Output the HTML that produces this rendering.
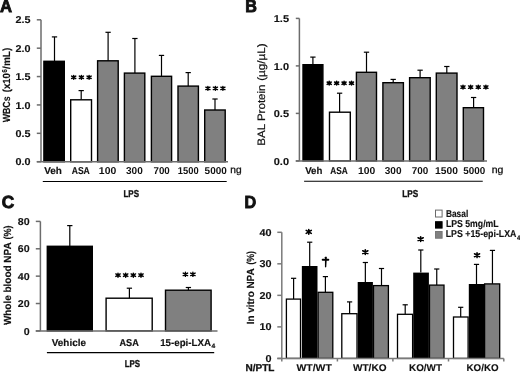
<!DOCTYPE html>
<html><head><meta charset="utf-8"><style>
html,body{margin:0;padding:0;background:#fff;}
body{width:520px;height:374px;overflow:hidden;}
svg{display:block;font-family:"Liberation Sans", sans-serif;filter:grayscale(1);text-rendering:geometricPrecision;}
</style></head><body>
<svg width="520" height="374" viewBox="0 0 520 374">
<line x1="41.00" y1="19.80" x2="41.00" y2="161.70" stroke="#6c6c6c" stroke-width="1.5"/>
<line x1="36.80" y1="161.70" x2="41.00" y2="161.70" stroke="#6c6c6c" stroke-width="1.5"/>
<line x1="36.80" y1="133.32" x2="41.00" y2="133.32" stroke="#6c6c6c" stroke-width="1.5"/>
<line x1="36.80" y1="104.94" x2="41.00" y2="104.94" stroke="#6c6c6c" stroke-width="1.5"/>
<line x1="36.80" y1="76.56" x2="41.00" y2="76.56" stroke="#6c6c6c" stroke-width="1.5"/>
<line x1="36.80" y1="48.18" x2="41.00" y2="48.18" stroke="#6c6c6c" stroke-width="1.5"/>
<line x1="36.80" y1="19.80" x2="41.00" y2="19.80" stroke="#6c6c6c" stroke-width="1.5"/>
<line x1="54.50" y1="61.30" x2="54.50" y2="36.90" stroke="#000" stroke-width="1.2"/><line x1="51.85" y1="36.90" x2="57.15" y2="36.90" stroke="#000" stroke-width="1.2"/>
<rect x="43.90" y="61.30" width="20.40" height="100.40" fill="#000" stroke="#000" stroke-width="1.4"/>
<line x1="81.20" y1="99.80" x2="81.20" y2="90.60" stroke="#000" stroke-width="1.2"/><line x1="78.55" y1="90.60" x2="83.85" y2="90.60" stroke="#000" stroke-width="1.2"/>
<rect x="70.70" y="99.80" width="20.80" height="61.90" fill="#fff" stroke="#000" stroke-width="1.4"/>
<line x1="108.10" y1="60.80" x2="108.10" y2="32.30" stroke="#000" stroke-width="1.2"/><line x1="105.45" y1="32.30" x2="110.75" y2="32.30" stroke="#000" stroke-width="1.2"/>
<rect x="97.60" y="60.80" width="20.60" height="100.90" fill="#808080" stroke="#000" stroke-width="1.4"/>
<line x1="134.90" y1="73.10" x2="134.90" y2="38.50" stroke="#000" stroke-width="1.2"/><line x1="132.25" y1="38.50" x2="137.55" y2="38.50" stroke="#000" stroke-width="1.2"/>
<rect x="124.40" y="73.10" width="20.40" height="88.60" fill="#808080" stroke="#000" stroke-width="1.4"/>
<line x1="161.50" y1="76.30" x2="161.50" y2="55.40" stroke="#000" stroke-width="1.2"/><line x1="158.85" y1="55.40" x2="164.15" y2="55.40" stroke="#000" stroke-width="1.2"/>
<rect x="151.40" y="76.30" width="20.20" height="85.40" fill="#808080" stroke="#000" stroke-width="1.4"/>
<line x1="188.20" y1="86.10" x2="188.20" y2="72.60" stroke="#000" stroke-width="1.2"/><line x1="185.55" y1="72.60" x2="190.85" y2="72.60" stroke="#000" stroke-width="1.2"/>
<rect x="178.00" y="86.10" width="20.40" height="75.60" fill="#808080" stroke="#000" stroke-width="1.4"/>
<line x1="215.00" y1="110.00" x2="215.00" y2="99.00" stroke="#000" stroke-width="1.2"/><line x1="212.35" y1="99.00" x2="217.65" y2="99.00" stroke="#000" stroke-width="1.2"/>
<rect x="204.70" y="110.00" width="20.50" height="51.70" fill="#808080" stroke="#000" stroke-width="1.4"/>
<line x1="36.80" y1="161.70" x2="228.00" y2="161.70" stroke="#6c6c6c" stroke-width="1.5"/>
<path d="M73.70 75.45V79.15M71.65 76.12L75.75 78.48M71.65 78.48L75.75 76.12" stroke="#000" stroke-width="1.5" stroke-linecap="round"/><path d="M81.40 75.45V79.15M79.35 76.12L83.45 78.48M79.35 78.48L83.45 76.12" stroke="#000" stroke-width="1.5" stroke-linecap="round"/><path d="M89.10 75.45V79.15M87.05 76.12L91.15 78.48M87.05 78.48L91.15 76.12" stroke="#000" stroke-width="1.5" stroke-linecap="round"/>
<path d="M207.90 86.55V90.25M205.85 87.22L209.95 89.58M205.85 89.58L209.95 87.22" stroke="#000" stroke-width="1.5" stroke-linecap="round"/><path d="M215.40 86.55V90.25M213.35 87.22L217.45 89.58M213.35 89.58L217.45 87.22" stroke="#000" stroke-width="1.5" stroke-linecap="round"/><path d="M222.90 86.55V90.25M220.85 87.22L224.95 89.58M220.85 89.58L224.95 87.22" stroke="#000" stroke-width="1.5" stroke-linecap="round"/>
<line x1="42.80" y1="181.50" x2="226.70" y2="181.50" stroke="#000" stroke-width="1.2"/>
<line x1="299.40" y1="18.40" x2="299.40" y2="160.90" stroke="#6c6c6c" stroke-width="1.5"/>
<line x1="295.80" y1="160.90" x2="299.40" y2="160.90" stroke="#6c6c6c" stroke-width="1.5"/>
<line x1="295.80" y1="113.40" x2="299.40" y2="113.40" stroke="#6c6c6c" stroke-width="1.5"/>
<line x1="295.80" y1="65.90" x2="299.40" y2="65.90" stroke="#6c6c6c" stroke-width="1.5"/>
<line x1="295.80" y1="18.40" x2="299.40" y2="18.40" stroke="#6c6c6c" stroke-width="1.5"/>
<line x1="312.90" y1="64.70" x2="312.90" y2="57.10" stroke="#000" stroke-width="1.2"/><line x1="310.25" y1="57.10" x2="315.55" y2="57.10" stroke="#000" stroke-width="1.2"/>
<rect x="303.00" y="64.70" width="19.90" height="96.20" fill="#000" stroke="#000" stroke-width="1.4"/>
<line x1="339.60" y1="112.20" x2="339.60" y2="93.20" stroke="#000" stroke-width="1.2"/><line x1="336.95" y1="93.20" x2="342.25" y2="93.20" stroke="#000" stroke-width="1.2"/>
<rect x="329.50" y="112.20" width="20.80" height="48.70" fill="#fff" stroke="#000" stroke-width="1.4"/>
<line x1="366.50" y1="72.30" x2="366.50" y2="52.20" stroke="#000" stroke-width="1.2"/><line x1="363.85" y1="52.20" x2="369.15" y2="52.20" stroke="#000" stroke-width="1.2"/>
<rect x="356.40" y="72.30" width="20.10" height="88.60" fill="#808080" stroke="#000" stroke-width="1.4"/>
<line x1="393.20" y1="82.70" x2="393.20" y2="79.40" stroke="#000" stroke-width="1.2"/><line x1="390.55" y1="79.40" x2="395.85" y2="79.40" stroke="#000" stroke-width="1.2"/>
<rect x="382.90" y="82.70" width="20.50" height="78.20" fill="#808080" stroke="#000" stroke-width="1.4"/>
<line x1="420.10" y1="77.70" x2="420.10" y2="70.20" stroke="#000" stroke-width="1.2"/><line x1="417.45" y1="70.20" x2="422.75" y2="70.20" stroke="#000" stroke-width="1.2"/>
<rect x="409.60" y="77.70" width="20.60" height="83.20" fill="#808080" stroke="#000" stroke-width="1.4"/>
<line x1="446.80" y1="73.10" x2="446.80" y2="66.50" stroke="#000" stroke-width="1.2"/><line x1="444.15" y1="66.50" x2="449.45" y2="66.50" stroke="#000" stroke-width="1.2"/>
<rect x="436.30" y="73.10" width="20.70" height="87.80" fill="#808080" stroke="#000" stroke-width="1.4"/>
<line x1="473.60" y1="107.70" x2="473.60" y2="97.50" stroke="#000" stroke-width="1.2"/><line x1="470.95" y1="97.50" x2="476.25" y2="97.50" stroke="#000" stroke-width="1.2"/>
<rect x="463.30" y="107.70" width="20.20" height="53.20" fill="#808080" stroke="#000" stroke-width="1.4"/>
<line x1="295.80" y1="160.90" x2="487.00" y2="160.90" stroke="#6c6c6c" stroke-width="1.5"/>
<path d="M329.20 81.35V85.05M327.15 82.02L331.25 84.38M327.15 84.38L331.25 82.02" stroke="#000" stroke-width="1.5" stroke-linecap="round"/><path d="M336.63 81.35V85.05M334.58 82.02L338.68 84.38M334.58 84.38L338.68 82.02" stroke="#000" stroke-width="1.5" stroke-linecap="round"/><path d="M344.07 81.35V85.05M342.02 82.02L346.12 84.38M342.02 84.38L346.12 82.02" stroke="#000" stroke-width="1.5" stroke-linecap="round"/><path d="M351.50 81.35V85.05M349.45 82.02L353.55 84.38M349.45 84.38L353.55 82.02" stroke="#000" stroke-width="1.5" stroke-linecap="round"/>
<path d="M463.00 85.25V88.95M460.95 85.92L465.05 88.28M460.95 88.28L465.05 85.92" stroke="#000" stroke-width="1.5" stroke-linecap="round"/><path d="M470.63 85.25V88.95M468.58 85.92L472.68 88.28M468.58 88.28L472.68 85.92" stroke="#000" stroke-width="1.5" stroke-linecap="round"/><path d="M478.27 85.25V88.95M476.22 85.92L480.32 88.28M476.22 88.28L480.32 85.92" stroke="#000" stroke-width="1.5" stroke-linecap="round"/><path d="M485.90 85.25V88.95M483.85 85.92L487.95 88.28M483.85 88.28L487.95 85.92" stroke="#000" stroke-width="1.5" stroke-linecap="round"/>
<line x1="304.10" y1="181.25" x2="482.75" y2="181.25" stroke="#000" stroke-width="1.2"/>
<line x1="40.40" y1="221.40" x2="40.40" y2="330.90" stroke="#6c6c6c" stroke-width="1.5"/>
<line x1="35.80" y1="330.90" x2="40.40" y2="330.90" stroke="#6c6c6c" stroke-width="1.5"/>
<line x1="35.80" y1="303.52" x2="40.40" y2="303.52" stroke="#6c6c6c" stroke-width="1.5"/>
<line x1="35.80" y1="276.15" x2="40.40" y2="276.15" stroke="#6c6c6c" stroke-width="1.5"/>
<line x1="35.80" y1="248.78" x2="40.40" y2="248.78" stroke="#6c6c6c" stroke-width="1.5"/>
<line x1="35.80" y1="221.40" x2="40.40" y2="221.40" stroke="#6c6c6c" stroke-width="1.5"/>
<line x1="69.80" y1="246.30" x2="69.80" y2="225.60" stroke="#000" stroke-width="1.2"/><line x1="67.15" y1="225.60" x2="72.45" y2="225.60" stroke="#000" stroke-width="1.2"/>
<rect x="47.30" y="246.30" width="45.00" height="84.60" fill="#000" stroke="#000" stroke-width="1.4"/>
<line x1="129.40" y1="298.20" x2="129.40" y2="288.20" stroke="#000" stroke-width="1.2"/><line x1="126.75" y1="288.20" x2="132.05" y2="288.20" stroke="#000" stroke-width="1.2"/>
<rect x="106.10" y="298.20" width="46.10" height="32.70" fill="#fff" stroke="#000" stroke-width="1.4"/>
<line x1="188.40" y1="290.20" x2="188.40" y2="287.50" stroke="#000" stroke-width="1.2"/><line x1="185.75" y1="287.50" x2="191.05" y2="287.50" stroke="#000" stroke-width="1.2"/>
<rect x="165.50" y="290.20" width="45.60" height="40.70" fill="#808080" stroke="#000" stroke-width="1.4"/>
<line x1="35.80" y1="330.90" x2="217.50" y2="330.90" stroke="#6c6c6c" stroke-width="1.5"/>
<path d="M118.00 273.10V277.30M115.80 273.93L120.20 276.47M115.80 276.47L120.20 273.93" stroke="#000" stroke-width="1.4" stroke-linecap="round"/><path d="M125.67 273.10V277.30M123.47 273.93L127.87 276.47M123.47 276.47L127.87 273.93" stroke="#000" stroke-width="1.4" stroke-linecap="round"/><path d="M133.33 273.10V277.30M131.13 273.93L135.53 276.47M131.13 276.47L135.53 273.93" stroke="#000" stroke-width="1.4" stroke-linecap="round"/><path d="M141.00 273.10V277.30M138.80 273.93L143.20 276.47M138.80 276.47L143.20 273.93" stroke="#000" stroke-width="1.4" stroke-linecap="round"/>
<path d="M185.40 272.20V276.40M183.20 273.03L187.60 275.57M183.20 275.57L187.60 273.03" stroke="#000" stroke-width="1.4" stroke-linecap="round"/><path d="M192.90 272.20V276.40M190.70 273.03L195.10 275.57M190.70 275.57L195.10 273.03" stroke="#000" stroke-width="1.4" stroke-linecap="round"/>
<line x1="46.90" y1="352.70" x2="214.20" y2="352.70" stroke="#000" stroke-width="1.2"/>
<line x1="281.80" y1="232.30" x2="281.80" y2="361.50" stroke="#7a7a7a" stroke-width="1.5"/>
<line x1="277.30" y1="358.40" x2="281.80" y2="358.40" stroke="#7a7a7a" stroke-width="1.5"/>
<line x1="277.30" y1="326.88" x2="281.80" y2="326.88" stroke="#7a7a7a" stroke-width="1.5"/>
<line x1="277.30" y1="295.35" x2="281.80" y2="295.35" stroke="#7a7a7a" stroke-width="1.5"/>
<line x1="277.30" y1="263.82" x2="281.80" y2="263.82" stroke="#7a7a7a" stroke-width="1.5"/>
<line x1="277.30" y1="232.30" x2="281.80" y2="232.30" stroke="#7a7a7a" stroke-width="1.5"/>
<line x1="337.40" y1="358.40" x2="337.40" y2="361.50" stroke="#7a7a7a" stroke-width="1.5"/>
<line x1="392.90" y1="358.40" x2="392.90" y2="361.50" stroke="#7a7a7a" stroke-width="1.5"/>
<line x1="448.50" y1="358.40" x2="448.50" y2="361.50" stroke="#7a7a7a" stroke-width="1.5"/>
<line x1="503.80" y1="358.40" x2="503.80" y2="361.50" stroke="#7a7a7a" stroke-width="1.5"/>
<line x1="293.60" y1="299.10" x2="293.60" y2="278.30" stroke="#000" stroke-width="1.2"/><line x1="291.00" y1="278.30" x2="296.20" y2="278.30" stroke="#000" stroke-width="1.2"/>
<line x1="309.70" y1="266.00" x2="309.70" y2="242.20" stroke="#000" stroke-width="1.2"/><line x1="307.10" y1="242.20" x2="312.30" y2="242.20" stroke="#000" stroke-width="1.2"/>
<line x1="325.40" y1="292.30" x2="325.40" y2="276.60" stroke="#000" stroke-width="1.2"/><line x1="322.80" y1="276.60" x2="328.00" y2="276.60" stroke="#000" stroke-width="1.2"/>
<line x1="349.60" y1="313.70" x2="349.60" y2="301.90" stroke="#000" stroke-width="1.2"/><line x1="347.00" y1="301.90" x2="352.20" y2="301.90" stroke="#000" stroke-width="1.2"/>
<line x1="365.35" y1="282.00" x2="365.35" y2="262.50" stroke="#000" stroke-width="1.2"/><line x1="362.75" y1="262.50" x2="367.95" y2="262.50" stroke="#000" stroke-width="1.2"/>
<line x1="381.50" y1="285.60" x2="381.50" y2="268.50" stroke="#000" stroke-width="1.2"/><line x1="378.90" y1="268.50" x2="384.10" y2="268.50" stroke="#000" stroke-width="1.2"/>
<line x1="405.20" y1="314.30" x2="405.20" y2="304.80" stroke="#000" stroke-width="1.2"/><line x1="402.60" y1="304.80" x2="407.80" y2="304.80" stroke="#000" stroke-width="1.2"/>
<line x1="420.80" y1="272.60" x2="420.80" y2="250.00" stroke="#000" stroke-width="1.2"/><line x1="418.20" y1="250.00" x2="423.40" y2="250.00" stroke="#000" stroke-width="1.2"/>
<line x1="436.75" y1="285.10" x2="436.75" y2="269.00" stroke="#000" stroke-width="1.2"/><line x1="434.15" y1="269.00" x2="439.35" y2="269.00" stroke="#000" stroke-width="1.2"/>
<line x1="460.70" y1="317.00" x2="460.70" y2="307.30" stroke="#000" stroke-width="1.2"/><line x1="458.10" y1="307.30" x2="463.30" y2="307.30" stroke="#000" stroke-width="1.2"/>
<line x1="476.50" y1="284.00" x2="476.50" y2="264.40" stroke="#000" stroke-width="1.2"/><line x1="473.90" y1="264.40" x2="479.10" y2="264.40" stroke="#000" stroke-width="1.2"/>
<line x1="492.45" y1="283.90" x2="492.45" y2="250.40" stroke="#000" stroke-width="1.2"/><line x1="489.85" y1="250.40" x2="495.05" y2="250.40" stroke="#000" stroke-width="1.2"/>
<rect x="286.40" y="299.10" width="14.10" height="59.30" fill="#fff" stroke="#000" stroke-width="1.3"/>
<rect x="318.10" y="292.30" width="14.70" height="66.10" fill="#808080" stroke="#000" stroke-width="1.3"/>
<rect x="301.85" y="266.00" width="15.65" height="92.40" fill="#000"/>
<rect x="341.80" y="313.70" width="15.20" height="44.70" fill="#fff" stroke="#000" stroke-width="1.3"/>
<rect x="373.50" y="285.60" width="14.90" height="72.80" fill="#808080" stroke="#000" stroke-width="1.3"/>
<rect x="357.70" y="282.00" width="15.20" height="76.40" fill="#000"/>
<rect x="397.50" y="314.30" width="15.10" height="44.10" fill="#fff" stroke="#000" stroke-width="1.3"/>
<rect x="429.50" y="285.10" width="14.50" height="73.30" fill="#808080" stroke="#000" stroke-width="1.3"/>
<rect x="413.20" y="272.60" width="15.70" height="85.80" fill="#000"/>
<rect x="453.50" y="317.00" width="14.60" height="41.40" fill="#fff" stroke="#000" stroke-width="1.3"/>
<rect x="484.60" y="283.90" width="15.10" height="74.50" fill="#808080" stroke="#000" stroke-width="1.3"/>
<rect x="468.80" y="284.00" width="15.20" height="74.40" fill="#000"/>
<line x1="277.30" y1="358.40" x2="503.80" y2="358.40" stroke="#7a7a7a" stroke-width="1.5"/>
<path d="M308.75 229.50V234.20M306.20 230.38L311.30 233.32M306.20 233.32L311.30 230.38" stroke="#000" stroke-width="1.6" stroke-linecap="round"/>
<path d="M365.30 249.85V254.55M362.75 250.73L367.85 253.67M362.75 253.67L367.85 250.73" stroke="#000" stroke-width="1.6" stroke-linecap="round"/>
<path d="M420.65 236.85V241.55M418.10 237.73L423.20 240.67M418.10 240.67L423.20 237.73" stroke="#000" stroke-width="1.6" stroke-linecap="round"/>
<path d="M477.05 252.90V257.60M474.50 253.78L479.60 256.72M474.50 256.72L479.60 253.78" stroke="#000" stroke-width="1.6" stroke-linecap="round"/>
<path d="M324.95 257.2 Q325.9 255.7 326.85 257.2 L326.25 267.0 Q325.6 267.9 324.95 267.0 Z" fill="#000"/>
<line x1="322.7" y1="259.8" x2="328.3" y2="259.8" stroke="#000" stroke-width="2" stroke-linecap="round"/>
<rect x="435.5" y="210.1" width="6.6" height="6.9" fill="#fff" stroke="#6a6a6a" stroke-width="1"/>
<rect x="435.5" y="221.7" width="6.6" height="6.4" fill="#000" stroke="#000" stroke-width="1"/>
<rect x="435.5" y="231.5" width="6.6" height="6.7" fill="#808080" stroke="#777" stroke-width="1"/>
<text x="0.00" y="11.90" font-size="17.5" font-weight="bold" fill="#111" textLength="12.05" lengthAdjust="spacingAndGlyphs" stroke="#111" stroke-width="0.9">A</text>
<text x="245.20" y="11.85" font-size="17.5" font-weight="bold" fill="#111" textLength="11.67" lengthAdjust="spacingAndGlyphs" stroke="#111" stroke-width="0.9">B</text>
<text x="1.75" y="207.90" font-size="17.5" font-weight="bold" fill="#111" textLength="12.45" lengthAdjust="spacingAndGlyphs" stroke="#111" stroke-width="0.9">C</text>
<text x="244.50" y="207.55" font-size="17.5" font-weight="bold" fill="#111" textLength="11.68" lengthAdjust="spacingAndGlyphs" stroke="#111" stroke-width="0.9">D</text>
<text x="15.55" y="165.30" font-size="10.0" font-weight="bold" fill="#111" textLength="15.02" lengthAdjust="spacingAndGlyphs" stroke="#111" stroke-width="0.12">0.0</text>
<text x="15.55" y="136.92" font-size="10.0" font-weight="bold" fill="#111" textLength="15.02" lengthAdjust="spacingAndGlyphs" stroke="#111" stroke-width="0.12">0.5</text>
<text x="15.55" y="108.54" font-size="10.0" font-weight="bold" fill="#111" textLength="15.02" lengthAdjust="spacingAndGlyphs" stroke="#111" stroke-width="0.12">1.0</text>
<text x="15.55" y="80.16" font-size="10.0" font-weight="bold" fill="#111" textLength="15.02" lengthAdjust="spacingAndGlyphs" stroke="#111" stroke-width="0.12">1.5</text>
<text x="15.55" y="51.78" font-size="10.0" font-weight="bold" fill="#111" textLength="15.02" lengthAdjust="spacingAndGlyphs" stroke="#111" stroke-width="0.12">2.0</text>
<text x="15.55" y="23.40" font-size="10.0" font-weight="bold" fill="#111" textLength="15.02" lengthAdjust="spacingAndGlyphs" stroke="#111" stroke-width="0.12">2.5</text>
<text x="273.75" y="164.50" font-size="10.0" font-weight="bold" fill="#111" textLength="15.27" lengthAdjust="spacingAndGlyphs" stroke="#111" stroke-width="0.12">0.0</text>
<text x="273.75" y="117.07" font-size="10.0" font-weight="bold" fill="#111" textLength="15.27" lengthAdjust="spacingAndGlyphs" stroke="#111" stroke-width="0.12">0.5</text>
<text x="273.75" y="69.63" font-size="10.0" font-weight="bold" fill="#111" textLength="15.27" lengthAdjust="spacingAndGlyphs" stroke="#111" stroke-width="0.12">1.0</text>
<text x="273.75" y="22.20" font-size="10.0" font-weight="bold" fill="#111" textLength="15.27" lengthAdjust="spacingAndGlyphs" stroke="#111" stroke-width="0.12">1.5</text>
<text x="23.68" y="334.50" font-size="10.0" font-weight="bold" fill="#111" textLength="5.93" lengthAdjust="spacingAndGlyphs" stroke="#111" stroke-width="0.12">0</text>
<text x="17.75" y="307.12" font-size="10.0" font-weight="bold" fill="#111" textLength="11.87" lengthAdjust="spacingAndGlyphs" stroke="#111" stroke-width="0.12">20</text>
<text x="17.75" y="279.75" font-size="10.0" font-weight="bold" fill="#111" textLength="11.87" lengthAdjust="spacingAndGlyphs" stroke="#111" stroke-width="0.12">40</text>
<text x="17.75" y="252.38" font-size="10.0" font-weight="bold" fill="#111" textLength="11.87" lengthAdjust="spacingAndGlyphs" stroke="#111" stroke-width="0.12">60</text>
<text x="17.75" y="225.00" font-size="10.0" font-weight="bold" fill="#111" textLength="11.87" lengthAdjust="spacingAndGlyphs" stroke="#111" stroke-width="0.12">80</text>
<text x="265.43" y="362.00" font-size="10.0" font-weight="bold" fill="#111" textLength="6.03" lengthAdjust="spacingAndGlyphs" stroke="#111" stroke-width="0.12">0</text>
<text x="259.40" y="330.48" font-size="10.0" font-weight="bold" fill="#111" textLength="12.06" lengthAdjust="spacingAndGlyphs" stroke="#111" stroke-width="0.12">10</text>
<text x="259.40" y="298.95" font-size="10.0" font-weight="bold" fill="#111" textLength="12.06" lengthAdjust="spacingAndGlyphs" stroke="#111" stroke-width="0.12">20</text>
<text x="259.40" y="267.43" font-size="10.0" font-weight="bold" fill="#111" textLength="12.06" lengthAdjust="spacingAndGlyphs" stroke="#111" stroke-width="0.12">30</text>
<text x="259.40" y="235.90" font-size="10.0" font-weight="bold" fill="#111" textLength="12.06" lengthAdjust="spacingAndGlyphs" stroke="#111" stroke-width="0.12">40</text>
<text x="44.20" y="174.20" font-size="10.0" font-weight="bold" fill="#111" textLength="17.72" lengthAdjust="spacingAndGlyphs" stroke="#111" stroke-width="0.15">Veh</text>
<text x="71.70" y="174.20" font-size="10.0" font-weight="bold" fill="#111" textLength="18.10" lengthAdjust="spacingAndGlyphs" stroke="#111" stroke-width="0.15">ASA</text>
<text x="98.85" y="174.20" font-size="10.0" font-weight="bold" fill="#111" textLength="17.41" lengthAdjust="spacingAndGlyphs">100</text>
<text x="126.00" y="174.20" font-size="10.0" font-weight="bold" fill="#111" textLength="16.77" lengthAdjust="spacingAndGlyphs">300</text>
<text x="153.50" y="174.20" font-size="10.0" font-weight="bold" fill="#111" textLength="16.27" lengthAdjust="spacingAndGlyphs">700</text>
<text x="177.80" y="174.20" font-size="10.0" font-weight="bold" fill="#111" textLength="20.78" lengthAdjust="spacingAndGlyphs">1500</text>
<text x="204.60" y="174.20" font-size="10.0" font-weight="bold" fill="#111" textLength="22.17" lengthAdjust="spacingAndGlyphs">5000</text>
<text x="305.20" y="174.20" font-size="10.0" font-weight="bold" fill="#111" textLength="17.22" lengthAdjust="spacingAndGlyphs" stroke="#111" stroke-width="0.15">Veh</text>
<text x="330.35" y="174.20" font-size="10.0" font-weight="bold" fill="#111" textLength="17.45" lengthAdjust="spacingAndGlyphs" stroke="#111" stroke-width="0.15">ASA</text>
<text x="358.00" y="174.20" font-size="10.0" font-weight="bold" fill="#111" textLength="17.25" lengthAdjust="spacingAndGlyphs">100</text>
<text x="384.75" y="174.20" font-size="10.0" font-weight="bold" fill="#111" textLength="16.77" lengthAdjust="spacingAndGlyphs">300</text>
<text x="411.75" y="174.20" font-size="10.0" font-weight="bold" fill="#111" textLength="16.52" lengthAdjust="spacingAndGlyphs">700</text>
<text x="435.05" y="174.20" font-size="10.0" font-weight="bold" fill="#111" textLength="22.84" lengthAdjust="spacingAndGlyphs">1500</text>
<text x="463.25" y="174.20" font-size="10.0" font-weight="bold" fill="#111" textLength="21.97" lengthAdjust="spacingAndGlyphs">5000</text>
<text x="230.30" y="172.50" font-size="10.0" font-weight="normal" fill="#111" textLength="11.31" lengthAdjust="spacingAndGlyphs" stroke="#111" stroke-width="0.3">ng</text>
<text x="491.70" y="172.70" font-size="10.0" font-weight="normal" fill="#111" textLength="11.63" lengthAdjust="spacingAndGlyphs" stroke="#111" stroke-width="0.3">ng</text>
<text x="123.50" y="197.40" font-size="10.0" font-weight="bold" fill="#111" textLength="15.50" lengthAdjust="spacingAndGlyphs" stroke="#111" stroke-width="0.35">LPS</text>
<text x="402.25" y="196.90" font-size="10.0" font-weight="bold" fill="#111" textLength="15.91" lengthAdjust="spacingAndGlyphs" stroke="#111" stroke-width="0.35">LPS</text>
<text x="51.80" y="345.90" font-size="10.0" font-weight="bold" fill="#111" textLength="34.10" lengthAdjust="spacingAndGlyphs" stroke="#111" stroke-width="0.15">Vehicle</text>
<text x="119.50" y="345.90" font-size="10.0" font-weight="bold" fill="#111" textLength="19.25" lengthAdjust="spacingAndGlyphs" stroke="#111" stroke-width="0.2">ASA</text>
<text x="160.20" y="345.90" font-size="10.0" font-weight="bold" fill="#111" textLength="50.81" lengthAdjust="spacingAndGlyphs" stroke="#111" stroke-width="0.15">15-epi-LXA</text>
<text x="211.50" y="348.20" font-size="6.3" font-weight="bold" fill="#111" textLength="3.71" lengthAdjust="spacingAndGlyphs" stroke="#111" stroke-width="0.2">4</text>
<text x="124.65" y="366.50" font-size="10.0" font-weight="bold" fill="#111" textLength="15.36" lengthAdjust="spacingAndGlyphs" stroke="#111" stroke-width="0.35">LPS</text>
<text x="245.50" y="371.40" font-size="9.8" font-weight="bold" fill="#111" textLength="28.96" lengthAdjust="spacingAndGlyphs" stroke="#111" stroke-width="0.3">N/PTL</text>
<text x="296.45" y="371.40" font-size="9.8" font-weight="bold" fill="#111" textLength="35.40" lengthAdjust="spacingAndGlyphs" stroke="#111" stroke-width="0.12">WT/WT</text>
<text x="353.00" y="371.40" font-size="9.8" font-weight="bold" fill="#111" textLength="33.50" lengthAdjust="spacingAndGlyphs" stroke="#111" stroke-width="0.12">WT/KO</text>
<text x="409.00" y="371.40" font-size="9.8" font-weight="bold" fill="#111" textLength="33.01" lengthAdjust="spacingAndGlyphs" stroke="#111" stroke-width="0.12">KO/WT</text>
<text x="466.50" y="371.40" font-size="9.8" font-weight="bold" fill="#111" textLength="32.07" lengthAdjust="spacingAndGlyphs" stroke="#111" stroke-width="0.12">KO/KO</text>
<text x="445.95" y="217.30" font-size="10.0" font-weight="bold" fill="#111" textLength="22.28" lengthAdjust="spacingAndGlyphs" stroke="#111" stroke-width="0.15">Basal</text>
<text x="445.95" y="227.30" font-size="10.0" font-weight="bold" fill="#111" textLength="52.70" lengthAdjust="spacingAndGlyphs" stroke="#111" stroke-width="0.15">LPS 5mg/mL</text>
<text x="445.70" y="237.30" font-size="10.0" font-weight="bold" fill="#111" textLength="70.76" lengthAdjust="spacingAndGlyphs" stroke="#111" stroke-width="0.15">LPS +15-epi-LXA</text>
<text x="516.95" y="239.80" font-size="6.5" font-weight="bold" fill="#111" textLength="3.27" lengthAdjust="spacingAndGlyphs" stroke="#111" stroke-width="0.2">4</text>
<text x="-122.25" y="9.80" font-size="10.3" font-weight="bold" fill="#111" textLength="25.80" lengthAdjust="spacingAndGlyphs" transform="rotate(-90)" stroke="#111" stroke-width="0.15">WBCs</text>
<text x="-92.20" y="9.80" font-size="10.3" font-weight="bold" fill="#111" textLength="19.12" lengthAdjust="spacingAndGlyphs" transform="rotate(-90)" stroke="#111" stroke-width="0.15">(x10</text>
<text x="-72.50" y="6.60" font-size="7.2" font-weight="bold" fill="#111" textLength="3.31" lengthAdjust="spacingAndGlyphs" transform="rotate(-90)" stroke="#111" stroke-width="0.1">6</text>
<text x="-68.90" y="9.80" font-size="10.3" font-weight="bold" fill="#111" textLength="21.25" lengthAdjust="spacingAndGlyphs" transform="rotate(-90)" stroke="#111" stroke-width="0.15">/mL)</text>
<text x="-145.75" y="265.30" font-size="10.8" font-weight="normal" fill="#111" textLength="61.28" lengthAdjust="spacingAndGlyphs" transform="rotate(-90)" stroke="#111" stroke-width="0.2">BAL Protein</text>
<text x="-80.85" y="265.30" font-size="10.8" font-weight="normal" fill="#111" textLength="37.38" lengthAdjust="spacingAndGlyphs" transform="rotate(-90)" stroke="#111" stroke-width="0.2">(µg/µL)</text>
<text x="-325.10" y="11.10" font-size="10.3" font-weight="bold" fill="#111" textLength="82.70" lengthAdjust="spacingAndGlyphs" transform="rotate(-90)" stroke="#111" stroke-width="0.15">Whole blood NPA</text>
<text x="-239.55" y="11.10" font-size="10.3" font-weight="bold" fill="#111" textLength="14.14" lengthAdjust="spacingAndGlyphs" transform="rotate(-90)" stroke="#111" stroke-width="0.15">(%)</text>
<text x="-324.25" y="254.10" font-size="10.3" font-weight="bold" fill="#111" textLength="55.86" lengthAdjust="spacingAndGlyphs" transform="rotate(-90)" stroke="#111" stroke-width="0.15">In vitro NPA</text>
<text x="-264.70" y="254.10" font-size="10.3" font-weight="bold" fill="#111" textLength="13.70" lengthAdjust="spacingAndGlyphs" transform="rotate(-90)" stroke="#111" stroke-width="0.15">(%)</text>
</svg>
</body></html>
